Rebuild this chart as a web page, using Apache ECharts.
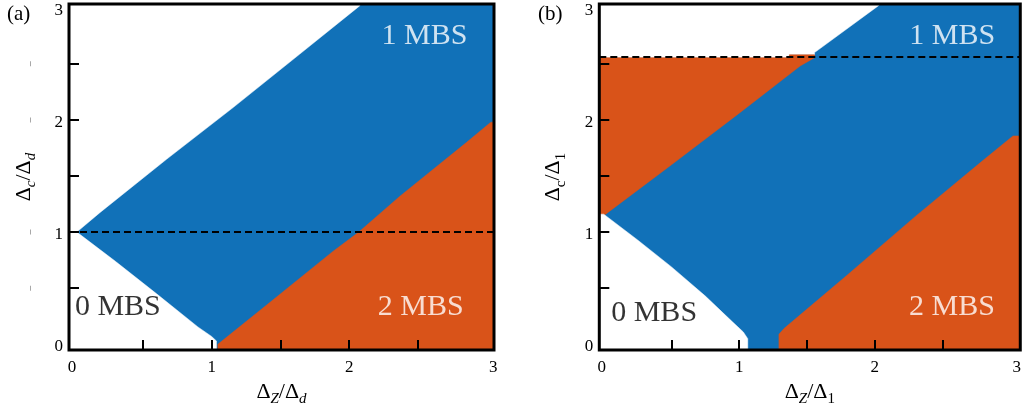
<!DOCTYPE html>
<html>
<head>
<meta charset="utf-8">
<script src="https://cdn.jsdelivr.net/npm/echarts@6/dist/echarts.min.js"></script>
<style>html,body{margin:0;padding:0;background:#fff}#c{width:1024px;height:412px}</style>
</head>
<body>
<div id="c"></div>
<script>
// ---------- data ----------
const TICKS = [0.5, 1, 1.5, 2, 2.5];
const XLABELS = [0, 1, 2, 3];
const YLABELS = [0, 1, 2, 3];
const MARKS_A = [0.5, 1, 2, 2.5];

const DASH_A = 1.0;
const DASH_B = 2.555;

// Panel (a) region boundaries
const a_white_top = [[-1,1.0],[0.02,1.0],[0.187,1.173],[0.672,1.649],[1.156,2.11],[1.641,2.587],[2.078,3.018],[2.1,4],[-1,4]];
const a_white_bottom = [[-1,-1],[-1,1.0],[0.02,1.0],[0.3,0.74],[0.6,0.45],[0.9,0.155],[1.0,0.07],[1.035,0.03],[1.04,-1]];
const a_orange = [[1.045,-1],[1.045,0.0],[1.4,0.35],[1.884,0.83],[2.07,1.0],[2.369,1.32],[2.854,1.80],[3.03,1.98],[4,1.98],[4,-1]];

// Panel (b) region boundaries
const b_white_top = [[-1,2.555],[1.37,2.555],[1.37,2.58],[1.556,2.58],[1.556,2.6],[2.03,3.02],[2.05,4],[-1,4]];
const b_orange_top = [[-1,1.16],[0.012,1.158],[0.5,1.6],[1.0,2.06],[1.449,2.48],[1.556,2.555],[1.556,2.58],[1.37,2.58],[1.37,2.555],[-1,2.555]];
const b_white_bottom = [[-1,-1],[-1,1.16],[0.0,1.16],[0.25,0.93],[0.5,0.69],[0.75,0.43],[0.95,0.2],[1.03,0.11],[1.063,0.05],[1.063,-1]];
const b_orange_bottom = [[1.293,-1],[1.293,0.09],[1.33,0.14],[1.8,0.62],[2.3,1.14],[2.8,1.64],[3.02,1.857],[4,1.857],[4,-1]];

const FULL = [[-1,-1],[4,-1],[4,4],[-1,4]];

// region annotations
const labelsA = [{name:'1 MBS', value:[2.548,2.75], white:true},{name:'2 MBS', value:[2.52,0.33], white:true},{name:'0 MBS', value:[0.318,0.33], white:false}];
const labelsB = [{name:'1 MBS', value:[2.572,2.75], white:true},{name:'2 MBS', value:[2.57,0.33], white:true},{name:'0 MBS', value:[0.372,0.28], white:false}];

// ---------- styles ----------
const BLUE = '#1171B8', ORANGE = '#D95319', WHITE = '#FFFFFF';
const FONT = 'Liberation Serif';

const RANGE_A = {xmin:-0.037, xmax:3.053, ymin:-0.0516, ymax:3.033};
const RANGE_B = {xmin:-0.0326, xmax:3.074, ymin:-0.0516, ymax:3.033};

const polysA = [{c:BLUE,p:FULL},{c:WHITE,p:a_white_top},{c:WHITE,p:a_white_bottom},{c:ORANGE,p:a_orange}];
const polysB = [{c:BLUE,p:FULL},{c:WHITE,p:b_white_top},{c:ORANGE,p:b_orange_top},{c:WHITE,p:b_white_bottom},{c:ORANGE,p:b_orange_bottom}];

function polySeries(idx, polys) {
  return {
    type:'custom', xAxisIndex:idx, yAxisIndex:idx, clip:true, z:2, silent:true,
    data: polys.map((p,i)=>[i,0]),
    renderItem: (params, api) => {
      const pg = polys[params.dataIndex];
      return {type:'polygon', shape:{points: pg.p.map(pt=>api.coord(pt))}, style:{fill:pg.c, stroke:pg.c, lineWidth:0.5}};
    }
  };
}
function frameSeries(idx) {
  return {
    type:'custom', xAxisIndex:idx, yAxisIndex:idx, clip:false, z:20, silent:true,
    data:[[0,0]],
    renderItem: (params) => {
      const cs = params.coordSys;
      return {type:'rect', shape:{x:cs.x, y:cs.y, width:cs.width, height:cs.height},
        style:{fill:null, stroke:'#000', lineWidth:3}};
    }
  };
}
function labelSeries(idx, labels, dash) {
  return {
    type:'scatter', xAxisIndex:idx, yAxisIndex:idx, z:5, silent:true, symbolSize:1,
    itemStyle:{color:'transparent'},
    data: labels.map(l=>({name:l.name, value:l.value, label:{color: l.white?'#fff':'#000'}})),
    label:{show:true, position:'inside', formatter: p=>p.name, fontFamily:FONT, fontSize:30},
    labelLayout:{hideOverlap:false},
    markLine:{silent:true, symbol:'none', label:{show:false}, animation:false,
      lineStyle:{type:[7,4], width:2, color:'#000'}, data:[{yAxis:dash}]}
  };
}
const richX = {
  n:{fontFamily:FONT, fontSize:17, color:'#000'},
  lo:{fontFamily:FONT, fontSize:17, color:'#000', padding:[0,4,0,0]},
  hi:{fontFamily:FONT, fontSize:17, color:'#000', padding:[0,0,0,13]}
};
const richY = {n:{fontFamily:FONT, fontSize:17, color:'#000', padding:[5,0,0,0]}};
const richName = {
  d:{fontFamily:FONT, fontSize:22, color:'#000', lineHeight:30, verticalAlign:'middle'},
  s:{fontFamily:FONT, fontSize:15, fontStyle:'italic', color:'#000', lineHeight:30, verticalAlign:'bottom'},
  u:{fontFamily:FONT, fontSize:15, color:'#000', lineHeight:30, verticalAlign:'bottom'}
};
function xAxis(idx, r, name, gap) {
  return {
    type:'value', gridIndex:idx, min:r.xmin, max:r.xmax, z:12,
    axisLine:{show:false, onZero:false}, splitLine:{show:false},
    axisTick:{show:true, inside:true, length:10, customValues:TICKS, lineStyle:{color:'#000', width:2}},
    axisLabel:{customValues:XLABELS, margin:9, formatter: v => v===0?'{lo|0}':(v===3?'{hi|3}':'{n|'+v+'}'), rich:richX},
    name:name, nameLocation:'middle', nameGap:gap, nameTextStyle:{rich:richName}
  };
}
function yAxis(idx, r, name, gap) {
  return {
    type:'value', gridIndex:idx, min:r.ymin, max:r.ymax, z:12,
    axisLine:{show:false, onZero:false}, splitLine:{show:false},
    axisTick:{show:true, inside:true, length:10, customValues:TICKS, lineStyle:{color:'#000', width:2}},
    axisLabel:{customValues:YLABELS, margin:6, formatter: v => '{n|'+v+'}', rich:richY},
    name:name, nameLocation:'middle', nameRotate:90, nameGap:gap, nameTextStyle:{rich:richName}
  };
}

const chart = echarts.init(document.getElementById('c'), null, {renderer:'canvas'});
chart.setOption({
  animation:false,
  backgroundColor:'#fff',
  title:[
    {text:'(a)', left:7, top:4, padding:0, textStyle:{fontFamily:FONT, fontSize:21, fontWeight:'normal', color:'#000'}},
    {text:'(b)', left:538, top:4, padding:0, textStyle:{fontFamily:FONT, fontSize:21, fontWeight:'normal', color:'#000'}}
  ],
  grid:[
    {left:69, top:4, width:425, height:347, show:false},
    {left:599.3, top:4, width:428.7, height:347, show:false}
  ],
  xAxis:[
    xAxis(0, RANGE_A, '{d|Δ}{s|Z}{d|/Δ}{s|d}', 25),
    xAxis(1, RANGE_B, '{d|Δ}{s|Z}{d|/Δ}{u|1}', 19)
  ],
  yAxis:[
    yAxis(0, RANGE_A, '{d|Δ}{s|c}{d|/Δ}{s|d}', 30),
    yAxis(1, RANGE_B, '{d|Δ}{u|c}{d|/Δ}{u|1}', 31),
    {type:'value', gridIndex:0, min:RANGE_A.ymin, max:RANGE_A.ymax, position:'left', z:1,
     axisLine:{show:false, onZero:false}, axisTick:{show:false}, splitLine:{show:false},
     axisLabel:{customValues:MARKS_A, margin:38, formatter:()=>'{m| }',
       rich:{m:{width:1, height:5, fontSize:4, backgroundColor:'#a8a8a8'}}}}
  ],
  series:[
    polySeries(0, polysA), labelSeries(0, labelsA, DASH_A), frameSeries(0),
    polySeries(1, polysB), labelSeries(1, labelsB, DASH_B), frameSeries(1)
  ]
});
</script>
</body>
</html>
